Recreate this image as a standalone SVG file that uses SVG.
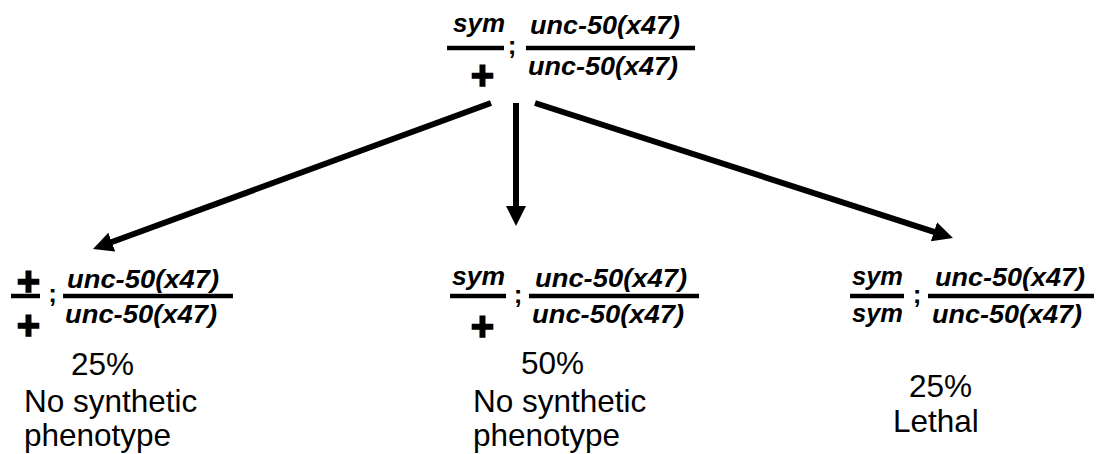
<svg xmlns="http://www.w3.org/2000/svg" width="1097" height="454" viewBox="0 0 1097 454">
  <style>
    .geno { font-family: "Liberation Sans", Arial, sans-serif; font-weight: bold; font-style: italic; font-size: 26px; fill: #000; }
    .semi { font-family: "Liberation Sans", Arial, sans-serif; font-weight: bold; font-size: 26px; fill: #000; text-anchor: middle; }
    .plus { font-family: "Liberation Sans", Arial, sans-serif; font-weight: bold; font-size: 40px; fill: #000; stroke: #000; stroke-width: 1.5; text-anchor: middle; }
    .note { font-family: "Liberation Sans", Arial, sans-serif; font-size: 31.5px; fill: #000; }
    .bar { stroke: #000; stroke-width: 4.5; }
    .edge { stroke: #000; stroke-width: 6; fill: none; }
  </style>
  <defs>
    <marker id="head" markerUnits="userSpaceOnUse" markerWidth="22" markerHeight="22" viewBox="0 -11 22 22" refX="5" refY="0" orient="auto">
      <path d="M0,-10 L20,0 L0,10 Z" fill="#000"/>
    </marker>
  </defs>
  <rect width="1097" height="454" fill="#fff"/>

  <!-- parent genotype: sym/+ ; unc-50(x47)/unc-50(x47) -->
  <g id="parent">
    <text class="geno" x="453" y="32" textLength="52" lengthAdjust="spacingAndGlyphs">sym</text>
    <line class="bar" x1="447" y1="48" x2="504" y2="48"/>
    <text class="plus" x="482.5" y="89">+</text>
    <text class="semi" x="512" y="54">;</text>
    <text class="geno" x="530" y="34" textLength="150" lengthAdjust="spacingAndGlyphs">unc-50(x47)</text>
    <line class="bar" x1="526" y1="48" x2="695" y2="48"/>
    <text class="geno" x="528" y="75" textLength="150" lengthAdjust="spacingAndGlyphs">unc-50(x47)</text>
  </g>

  <!-- connectors -->
  <g id="connectors">
    <line class="edge" x1="491" y1="103" x2="107.1" y2="243.8" marker-end="url(#head)"/>
    <line class="edge" x1="516" y1="103" x2="516" y2="211" marker-end="url(#head)"/>
    <line class="edge" x1="535" y1="103" x2="938.7" y2="233.4" marker-end="url(#head)"/>
  </g>

  <!-- +/+ offspring -->
  <g id="wildtype">
    <text class="plus" x="28.5" y="295">+</text>
    <line class="bar" x1="11" y1="296" x2="40" y2="296"/>
    <text class="plus" x="28.5" y="339">+</text>
    <text class="semi" x="52.5" y="302">;</text>
    <text class="geno" x="67" y="288" textLength="152" lengthAdjust="spacingAndGlyphs">unc-50(x47)</text>
    <line class="bar" x1="63" y1="296" x2="233" y2="296"/>
    <text class="geno" x="65" y="323" textLength="152" lengthAdjust="spacingAndGlyphs">unc-50(x47)</text>
    <text class="note" x="71" y="375">25%</text>
    <text class="note" x="24" y="412">No synthetic</text>
    <text class="note" x="24" y="446">phenotype</text>
  </g>

  <!-- sym/+ offspring -->
  <g id="heterozygote">
    <text class="geno" x="452" y="285" textLength="53" lengthAdjust="spacingAndGlyphs">sym</text>
    <line class="bar" x1="450" y1="296" x2="506" y2="296"/>
    <text class="plus" x="482.5" y="340">+</text>
    <text class="semi" x="518" y="303">;</text>
    <text class="geno" x="535" y="287" textLength="152" lengthAdjust="spacingAndGlyphs">unc-50(x47)</text>
    <line class="bar" x1="529" y1="296" x2="699" y2="296"/>
    <text class="geno" x="532" y="323" textLength="152" lengthAdjust="spacingAndGlyphs">unc-50(x47)</text>
    <text class="note" x="521" y="374">50%</text>
    <text class="note" x="473" y="412">No synthetic</text>
    <text class="note" x="473" y="446">phenotype</text>
  </g>

  <!-- sym/sym offspring -->
  <g id="homozygote">
    <text class="geno" x="852" y="285" textLength="51" lengthAdjust="spacingAndGlyphs">sym</text>
    <line class="bar" x1="850" y1="296" x2="904" y2="296"/>
    <text class="geno" x="852" y="322" textLength="51" lengthAdjust="spacingAndGlyphs">sym</text>
    <text class="semi" x="917" y="303">;</text>
    <text class="geno" x="935" y="286" textLength="150" lengthAdjust="spacingAndGlyphs">unc-50(x47)</text>
    <line class="bar" x1="928" y1="296" x2="1094" y2="296"/>
    <text class="geno" x="932" y="323" textLength="150" lengthAdjust="spacingAndGlyphs">unc-50(x47)</text>
    <text class="note" x="909" y="397">25%</text>
    <text class="note" x="893" y="432">Lethal</text>
  </g>
</svg>
